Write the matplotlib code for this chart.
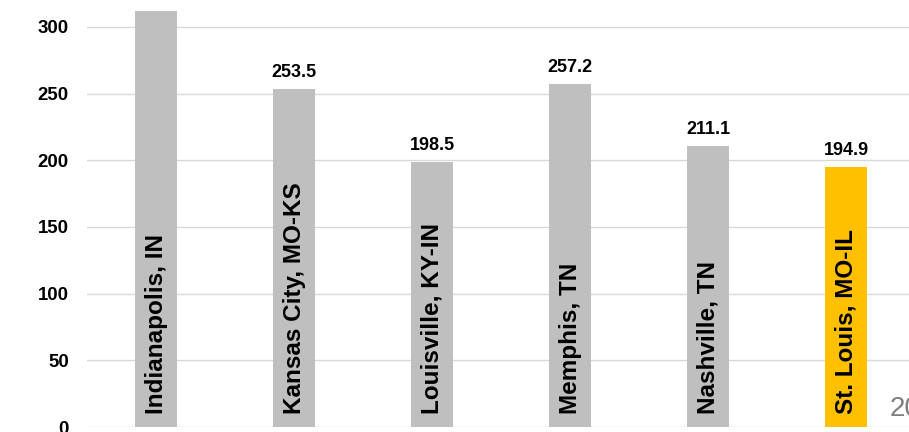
import matplotlib.pyplot as plt

# === DATA ===
metros = ['Indianapolis, IN', 'Kansas City, MO-KS', 'Louisville, KY-IN',
          'Memphis, TN', 'Nashville, TN', 'St. Louis, MO-IL']
values = [311.7, 253.5, 198.5, 257.2, 211.1, 194.9]
colors = ['#BFBFBF'] * 5 + ['#FFC000']
yticks = [0, 50, 100, 150, 200, 250, 300]

plt.rcParams['font.family'] = ['Liberation Sans', 'DejaVu Sans']

fig = plt.figure(figsize=(9.09, 4.32), dpi=100)
# axes runs past the figure edges (chart is a crop of a bigger slide)
ax = fig.add_axes([87 / 909, 5 / 432, 828 / 909, 466.7 / 432])

x = list(range(len(metros)))
ax.bar(x, values, width=0.31, color=colors, zorder=2)
ax.set_xlim(-0.5, len(metros) - 0.5)
ax.set_ylim(0, 350)

ax.set_yticks(yticks)
ax.set_yticklabels([str(t) for t in yticks], fontsize=13.4, fontweight='bold')
ax.set_xticks([])
ax.tick_params(axis='y', length=0, pad=13)
ax.yaxis.grid(True, color='#D9D9D9', linewidth=1, zorder=0)
for s in ax.spines.values():
    s.set_visible(False)

# value labels and rotated names inside bars
for i, (name, v) in enumerate(zip(metros, values)):
    ax.text(i, v + 6, f'{v:.1f}', ha='center', va='bottom',
            fontsize=13, fontweight='bold', zorder=3)
    ax.text(i, 10, name, rotation=90, ha='center', va='bottom',
            fontsize=17.5, fontweight='bold', zorder=3)

fig.text(890 / 909, 10 / 432, '2023', fontsize=20, color='#7F7F7F',
         ha='left', va='bottom')

fig.savefig('out.png', dpi=100)
